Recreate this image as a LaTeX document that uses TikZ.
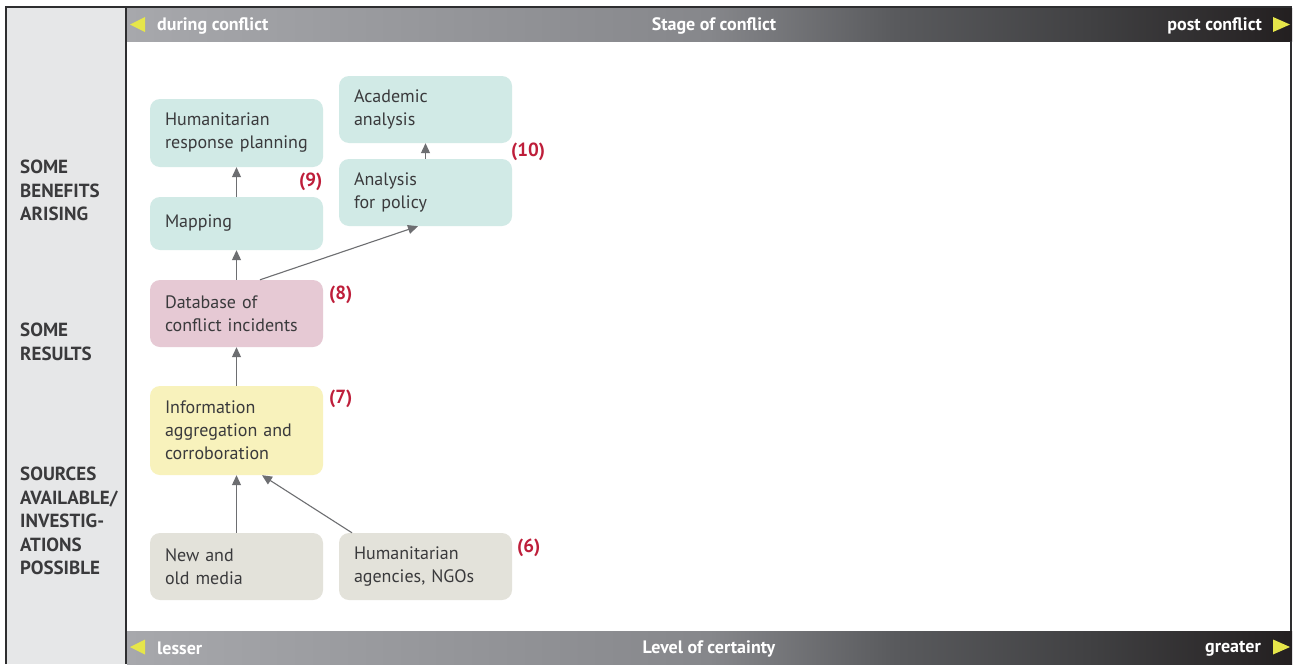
\documentclass[tikz,border=0pt]{standalone}
\usepackage{fontspec}
\setmainfont{PT Sans}
\usetikzlibrary{arrows.meta}
\definecolor{panel}{HTML}{E6E7E8}
\definecolor{framec}{HTML}{2E2E30}
\definecolor{teal}{HTML}{D1EAE6}
\definecolor{pink}{HTML}{E6C9D4}
\definecolor{yell}{HTML}{F8F2BC}
\definecolor{grayb}{HTML}{E3E2DA}
\definecolor{txt}{HTML}{3A3A3C}
\definecolor{redl}{HTML}{BE1E3A}
\definecolor{arrc}{HTML}{6D6E71}
\definecolor{tri}{HTML}{E6E64A}
\definecolor{gA}{HTML}{A7A8AC}
\definecolor{gB}{HTML}{86878B}
\definecolor{gC}{HTML}{595A5D}
\definecolor{gE}{HTML}{404042}
\definecolor{gD}{HTML}{231F20}
\pgfdeclarehorizontalshading{barshade}{100bp}{color(0bp)=(gA); color(25bp)=(gA); color(50bp)=(gB); color(58bp)=(gC); color(66.5bp)=(gE); color(75bp)=(gD); color(100bp)=(gD)}
\begin{document}
\begin{tikzpicture}[x=1pt,y=-1pt,
  box/.style={rounded corners=10pt, minimum width=173pt, text width=143pt, align=left, inner xsep=15pt, inner ysep=0pt, font=\fontsize{18}{23}\selectfont, text=txt},
  num/.style={text=redl, font=\bfseries\fontsize{19}{20}\selectfont, inner sep=0pt},
  side/.style={anchor=north west, inner sep=0pt, align=left, text=txt, font=\bfseries\fontsize{19}{23.5}\selectfont},
  bartext/.style={text=white, font=\bfseries\fontsize{18}{20}\selectfont, inner sep=0pt},
  arr/.style={draw=arrc, line width=1.1pt, -{Triangle[length=10pt,width=9pt]}, arrc}]
\useasboundingbox (0,0) rectangle (1293,664);
\fill[white] (0,0) rectangle (1293,664);
% left panel
\fill[panel] (6,7) rectangle (126,664);
% bars
\shade[shading=barshade] (127,8) rectangle (1292,41);
\shade[shading=barshade] (127,631) rectangle (1292,664);
% frame lines
\draw[framec, line width=2.2pt] (6,664) -- (6,7) -- (1292,7);
\draw[framec, line width=2.2pt] (126,7) -- (126,664);
\draw[framec, line width=2pt] (1291,41) -- (1291,631);
% triangles
\fill[tri] (130,24.5) -- (145,17) -- (145,32) -- cycle;
\fill[tri] (1273,17) -- (1273,32) -- (1290,24.5) -- cycle;
\fill[tri] (130,647) -- (145,639.5) -- (145,654.5) -- cycle;
\fill[tri] (1273,639.5) -- (1273,654.5) -- (1290,647) -- cycle;
% bar texts
\node[bartext, anchor=west] (dc) at (157,25.5) {during conflict};
\node[bartext] (soc) at (714,25.5) {Stage of conflict};
\node[bartext, anchor=east] (pc) at (1262,25.5) {post conflict};
\node[bartext, anchor=west] (ls) at (157,648.5) {lesser};
\node[bartext] (loc) at (709,648.5) {Level of certainty};
\node[bartext, anchor=east] (gr) at (1261,648.5) {greater};
% side labels
\node[side] (s1) at (20,160) {SOME\\BENEFITS\\ARISING};
\node[side] (s2) at (20,323) {SOME\\RESULTS};
\node[side] (s3) at (20,467) {SOURCES\\AVAILABLE/\\INVESTIG-\\ATIONS\\POSSIBLE};
% boxes
\node[box, fill=grayb, minimum height=67pt] (media) at (236.5,566.5) {New and\\old media};
\node[box, fill=grayb, minimum height=67pt] (ngo) at (425.5,566.5) {Humanitarian\\agencies, NGOs};
\node[box, fill=yell, minimum height=89pt] (info) at (236.5,430.5) {Information\\aggregation and\\corroboration};
\node[box, fill=pink, minimum height=67pt] (db) at (236.5,313.5) {Database of\\conflict incidents};
\node[box, fill=teal, minimum height=53pt] (map) at (236.5,223.5) {Mapping};
\node[box, fill=teal, minimum height=68pt] (hrp) at (236.5,133) {Humanitarian\\response planning};
\node[box, fill=teal, minimum height=67pt] (pol) at (425.5,192.5) {Analysis\\for policy};
\node[box, fill=teal, minimum height=67pt] (acad) at (425.5,109.5) {Academic\\analysis};
% numbers
\node[num, anchor=west] (n6) at (517,548) {(6)};
\node[num, anchor=west] (n7) at (329,399) {(7)};
\node[num, anchor=west] (n8) at (329,295) {(8)};
\node[num, anchor=west] (n9) at (299,182) {(9)};
\node[num, anchor=west] (n10) at (511,152) {(10)};
% arrows
\draw[arr] (media.north) -- (info.south);
\draw[arr] ([xshift=-73.5pt]ngo.north) -- ([xshift=25.5pt]info.south);
\draw[arr] (info.north) -- (db.south);
\draw[arr] (db.north) -- (map.south);
\draw[arr] ([xshift=23.5pt]db.north) -- ([xshift=-7.5pt]pol.south);
\draw[arr] (map.north) -- (hrp.south);
\draw[arr] (pol.north) -- (acad.south);
\end{tikzpicture}
\end{document}
